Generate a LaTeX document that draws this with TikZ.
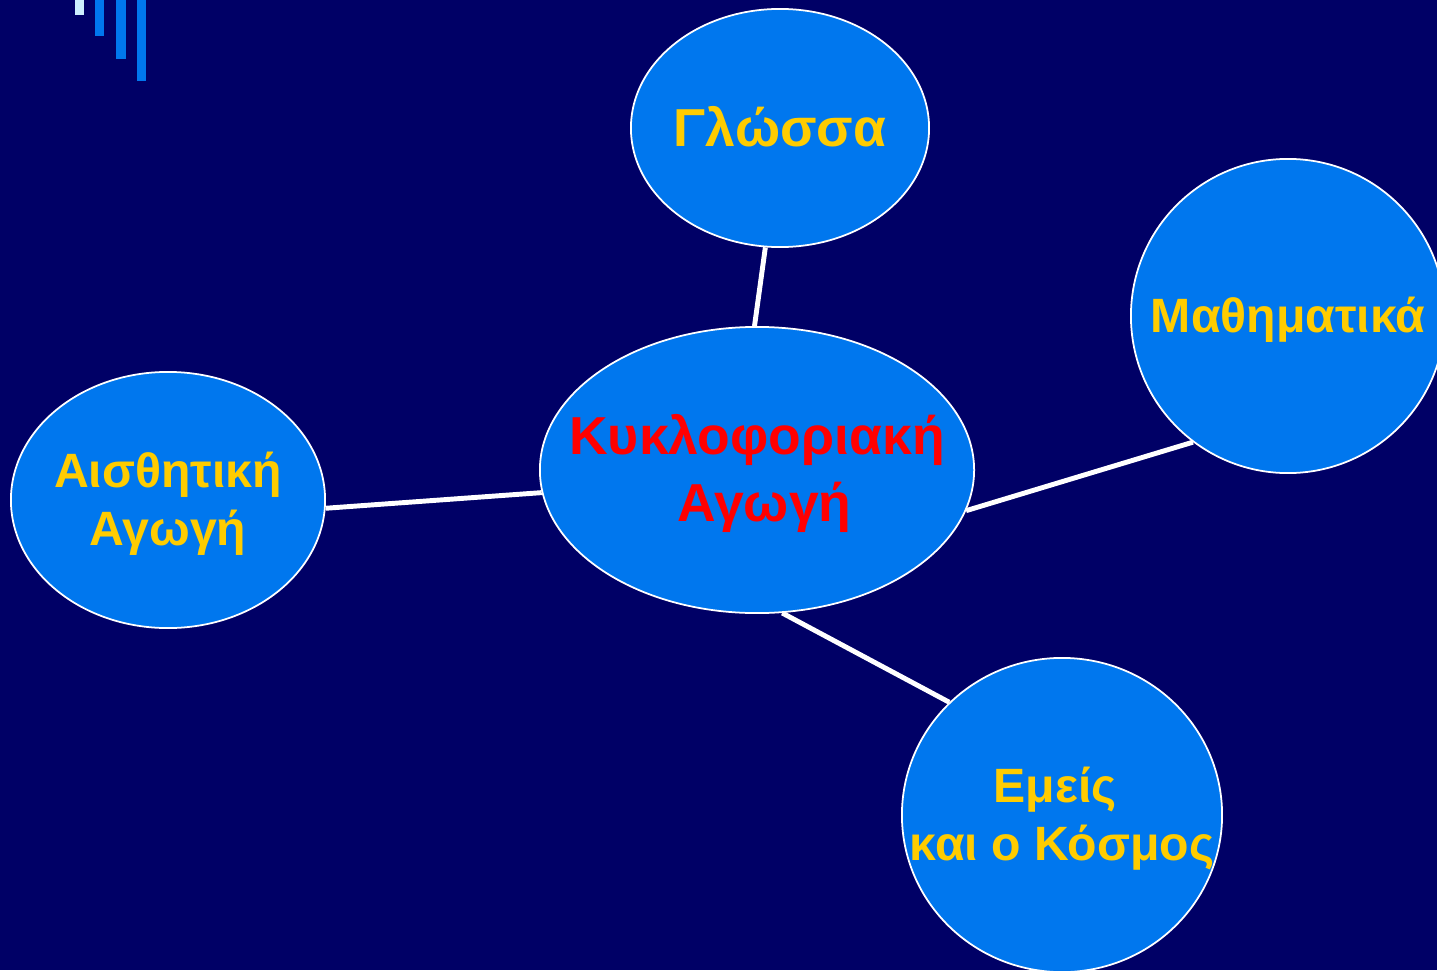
\documentclass[tikz,border=0pt]{standalone}
\usepackage{fontspec}
\setmainfont{Liberation Sans}
\usepackage{tikz}
\usetikzlibrary{shapes.geometric}
\definecolor{navy}{HTML}{000066}
\definecolor{bubble}{HTML}{0077EE}
\definecolor{pale}{HTML}{CCEEFF}
\definecolor{gold}{HTML}{FFCC00}
% text that does not widen its ellipse
\newcommand{\bubbletext}[1]{\makebox[0pt]{\raisebox{-5pt}[0pt][0pt]{\begin{tabular}{@{}c@{}}#1\end{tabular}}}}

\begin{document}
\begin{tikzpicture}[x=0.01cm, y=-0.01cm,
    topic/.style={ellipse, draw=white, line width=0.5pt, fill=bubble, inner sep=0pt,
      text=gold, font=\fontsize{13.7}{16.4}\selectfont\bfseries},
    big/.style={font=\fontsize{15.2}{19}\selectfont\bfseries},
    link/.style={draw=white, line width=1.4pt}]
  \useasboundingbox (0,0) rectangle (1437,970);
  \clip (0,0) rectangle (1437,970);
  \fill[navy] (0,0) rectangle (1437,970);
  % bars in the corner
  \fill[pale] (75,0) rectangle (84,15);
  \fill[bubble] (95,0) rectangle (104,36);
  \fill[bubble] (116,0) rectangle (126,59);
  \fill[bubble] (137,0) rectangle (146,81);

  \node[topic, big, minimum width=2.98cm, minimum height=2.38cm] (glossa) at (780,128)
    {\bubbletext{Γλώσσα}};
  \node[topic, minimum width=3.14cm, minimum height=3.14cm] (math) at (1288,316)
    {\bubbletext{Μαθηματικά}};
  \node[topic, big, minimum width=4.34cm, minimum height=2.86cm, text=red] (kyklo) at (757,470)
    {\bubbletext{Κυκλοφοριακή\\ \hspace*{0.28em}Αγωγή}};
  \node[topic, minimum width=3.14cm, minimum height=2.56cm] (aisth) at (168,500)
    {\bubbletext{Αισθητική\\Αγωγή}};
  \node[topic, minimum width=3.20cm, minimum height=3.14cm] (emeis) at (1062,815)
    {\bubbletext{Εμείς\hspace*{0.28em}\\και ο Κόσμος}};

  \path[link]
    (glossa.263.8) -- (kyklo.91.6)
    (kyklo.349.7) -- (math.233.7)
    (aisth.357) -- (kyklo.186)
    (kyklo.280) -- (emeis.135.5);
\end{tikzpicture}
\end{document}
